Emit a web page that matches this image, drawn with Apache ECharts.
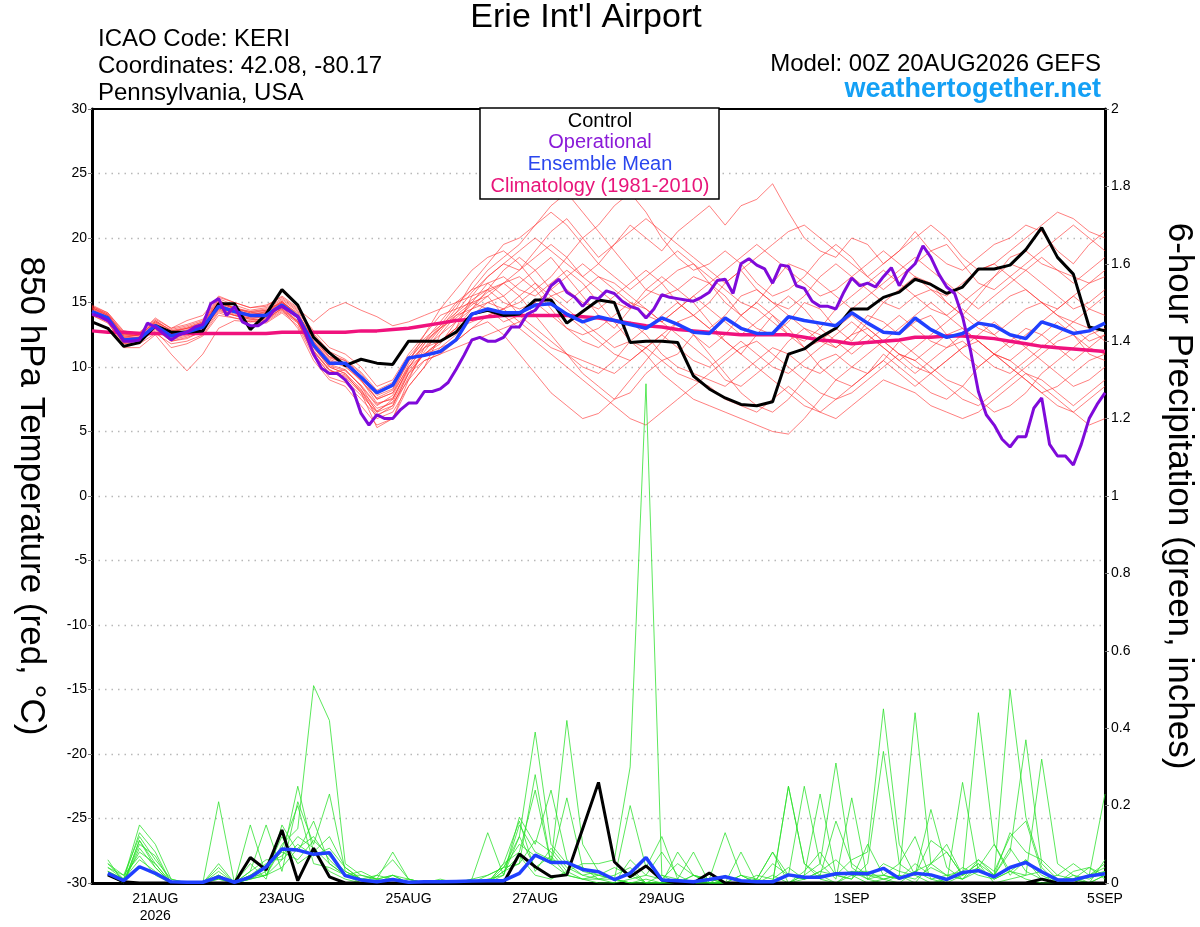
<!DOCTYPE html>
<html>
<head>
<meta charset="utf-8">
<script src="https://cdn.jsdelivr.net/npm/echarts@6/dist/echarts.min.js"></script>
<style>
html,body{margin:0;padding:0;background:#fff;}
#chart{width:1200px;height:927px;}
</style>
</head>
<body>
<div id="chart"></div>
<script>
// ---------------- DATA ----------------
// forecast hours: temperature series every 6 h from 0 h, operational every 3 h, precipitation every 6 h from 6 h
const STEP_HOURS = 6;
const OP_STEP_HOURS = 3;
const tickHours = [24, 72, 120, 168, 216, 288, 336, 384];
const tickLabels = ['21AUG\n2026', '23AUG', '25AUG', '27AUG', '29AUG', '1SEP', '3SEP', '5SEP'];

const control = [
  13.5,13.0,11.6,11.9,13.2,12.7,12.7,12.8,14.9,14.9,12.9,14.1,16.0,
  14.8,12.3,11.1,10.1,10.6,10.3,10.2,12.0,12.0,12.0,12.7,14.1,14.4,
  14.0,14.1,15.2,15.2,13.4,14.3,15.2,15.0,11.9,12.0,12.0,11.9,9.3,
  8.3,7.6,7.1,7.0,7.3,11.0,11.4,12.3,13.0,14.5,14.5,15.4,15.8,
  16.8,16.4,15.7,16.2,17.6,17.6,17.9,19.1,20.8,18.5,17.2,13.1,12.8
];
const ensembleMean = [
  14.3,13.8,12.1,12.2,13.2,12.4,12.7,13.1,14.7,14.3,14.0,14.0,14.8,
  13.9,11.7,10.3,10.3,9.2,8.0,8.6,10.7,10.9,11.2,12.1,14.1,14.5,
  14.2,14.2,14.8,14.9,14.1,13.5,13.9,13.6,13.3,13.0,13.8,13.3,12.7,
  12.6,13.8,13.0,12.6,12.6,13.9,13.6,13.4,13.2,14.2,13.4,12.7,12.6,
  13.8,12.9,12.3,12.6,13.4,13.2,12.5,12.2,13.5,13.1,12.6,12.8,13.4
];
const climatology = [
  12.8,12.7,12.7,12.6,12.6,12.6,12.6,12.6,12.6,12.6,12.6,12.6,12.7,
  12.7,12.7,12.7,12.7,12.8,12.8,12.9,13.0,13.2,13.4,13.6,13.7,13.9,
  14.0,14.0,14.0,14.0,14.0,13.9,13.8,13.6,13.4,13.2,13.1,12.9,12.8,
  12.7,12.6,12.5,12.5,12.5,12.5,12.3,12.1,12.0,11.8,11.9,12.0,12.1,
  12.3,12.3,12.4,12.4,12.3,12.2,12.0,11.8,11.6,11.5,11.4,11.3,11.2
];
const operational = [
  14.1,13.9,13.6,12.9,12.0,12.0,12.1,13.4,13.1,12.6,12.1,12.5,12.7,
  13.1,13.3,14.9,15.3,14.0,14.7,13.5,13.2,13.2,13.6,14.4,14.7,14.3,
  13.9,12.6,11.0,9.9,9.5,9.5,9.0,8.2,6.4,5.5,6.3,6.0,6.0,
  6.7,7.2,7.2,8.1,8.1,8.3,8.8,9.8,10.9,12.1,12.3,12.0,12.0,
  12.3,13.1,13.1,14.1,14.4,15.2,16.3,16.8,15.8,15.4,14.7,15.4,15.3,
  15.9,15.7,15.1,14.7,14.5,13.8,14.5,15.6,15.4,15.3,15.2,15.1,15.4,
  15.8,16.7,16.8,15.7,18.0,18.4,17.9,17.6,16.5,17.9,17.8,16.3,16.1,
  15.1,14.7,14.7,14.5,15.8,16.9,16.3,16.5,16.2,17.0,17.7,16.3,17.4,
  18.0,19.4,18.5,17.2,16.2,15.7,13.9,11.3,8.1,6.3,5.5,4.4,3.8,
  4.6,4.6,6.8,7.6,4.0,3.1,3.1,2.4,4.0,6.0,7.1,8.0
];

const member01 = [14.6,14.0,12.5,12.4,13.6,12.8,13.0,13.5,15.2,14.5,14.2,14.4,15.0, 14.2,12.0,10.5,10.0,9.0,7.5,8.0,10.5,11.5,12.0,13.0,15.5,17.0, 18.0,17.5,19.0,20.5,21.5,20.0,18.5,19.5,21.0,20.0,19.0,20.5,21.5, 22.5,21.0,22.5,23.0,24.2,22.0,20.0,19.0,18.5,20.0,19.5,18.0,19.0, 20.5,19.0,18.0,17.5,18.5,19.5,20.0,21.0,20.5,19.0,18.0,19.5,20.5];
const member02 = [14.2,13.6,11.8,12.0,13.0,12.0,12.2,12.8,14.5,14.0,13.8,13.6,14.6, 13.5,11.0,9.5,9.8,8.5,6.5,7.0,9.5,11.0,11.8,13.5,15.0,16.5, 15.5,14.0,13.0,12.0,11.0,9.5,8.5,7.5,8.0,9.5,10.5,11.0,12.5, 11.0,9.5,8.0,7.0,6.5,7.5,9.0,10.5,11.0,10.0,9.5,10.5,12.0, 11.0,10.0,9.0,8.5,7.5,6.5,7.0,8.0,9.5,10.5,11.5,12.5,13.0];
const member03 = [14.8,14.2,12.8,12.6,13.8,13.0,13.6,14.0,15.5,15.0,14.6,14.8,15.4, 14.5,13.5,14.5,15.0,14.4,13.9,13.2,13.5,14.0,14.5,15.0,16.0,16.5, 17.0,16.0,15.5,16.5,17.5,16.5,15.0,13.5,12.0,11.5,12.5,13.5,14.0, 15.0,16.5,17.5,16.0,15.0,14.5,15.5,17.0,18.0,17.0,16.0,15.0,14.5, 15.5,16.0,15.0,14.0,13.0,12.5,13.5,14.5,15.0,14.0,13.5,14.5,15.5];
const member04 = [14.0,13.5,11.5,11.5,12.5,11.0,9.7,11.0,13.0,13.6,13.5,13.8,14.5, 13.0,10.5,9.0,8.5,7.0,5.5,6.0,8.5,10.0,11.5,12.5,14.0,15.0, 15.5,16.5,17.5,18.5,17.0,15.5,14.0,13.0,14.5,16.0,17.0,16.0,15.0, 13.5,12.0,11.0,12.5,14.0,13.0,11.5,10.0,9.0,8.5,9.5,11.0,10.0, 9.0,8.0,7.5,8.5,10.0,11.0,10.5,9.5,8.5,7.5,6.5,5.5,6.0];
const member05 = [14.4,13.8,12.2,12.3,13.3,12.6,12.8,13.2,14.8,14.4,14.1,14.2,15.0, 14.0,11.5,10.0,9.5,8.0,5.3,6.0,9.0,11.5,13.0,14.5,16.5,18.0, 19.5,20.0,21.0,22.5,23.5,22.0,20.5,19.0,17.5,16.0,15.5,16.0,17.0, 16.5,15.5,14.0,13.0,12.5,13.5,15.0,14.5,13.0,12.0,13.5,15.0,16.0, 17.0,16.5,15.0,14.0,15.5,17.0,18.0,17.5,16.5,15.5,14.5,15.0,16.0];
const member06 = [14.3,13.9,12.0,12.1,13.1,12.2,12.5,13.0,14.6,14.2,13.9,13.8,14.7, 13.8,11.2,9.8,9.0,7.8,6.5,7.5,10.0,11.0,11.5,12.0,13.0,13.5, 12.5,11.0,9.5,8.0,7.0,6.0,6.4,7.5,9.0,10.5,12.0,13.5,12.5, 11.5,12.5,14.0,15.0,14.0,12.5,11.5,12.0,13.0,14.0,13.0,12.0,11.0, 10.0,9.5,10.5,11.5,12.0,11.0,10.0,9.0,8.0,8.5,9.5,10.5,11.0];
const member07 = [14.5,14.0,12.3,12.5,13.4,12.5,12.9,13.4,15.0,14.5,14.3,14.5,15.2, 14.3,12.5,11.0,10.5,9.5,8.0,8.5,10.5,12.0,13.5,15.0,15.5,16.0, 15.0,14.5,15.0,14.0,13.0,12.5,13.0,14.0,15.0,14.5,13.5,12.5,11.5, 10.5,9.0,8.5,9.5,10.5,12.0,13.0,12.5,11.5,12.5,14.0,13.5,12.5, 13.5,14.0,12.5,11.0,10.0,11.0,12.0,13.0,12.5,11.5,10.5,11.5,12.5];
const member08 = [14.1,13.6,11.9,12.0,12.8,11.5,11.8,12.4,14.0,13.8,13.5,13.5,14.3, 13.4,11.0,9.5,9.3,8.2,6.8,7.2,9.0,10.5,11.0,12.0,13.0,14.0, 14.5,15.0,16.0,17.0,18.5,20.0,21.0,22.5,23.5,22.0,20.0,18.5,17.5, 18.0,19.0,18.0,16.5,15.5,16.0,17.0,18.5,19.5,18.5,17.0,16.0,17.0, 18.0,19.0,19.5,18.0,16.5,16.0,17.0,18.0,19.0,20.0,21.0,20.0,19.0];
const member09 = [14.7,14.1,12.6,12.4,13.5,12.9,13.2,13.6,15.3,14.8,14.4,14.6,15.3, 14.4,12.8,11.5,11.0,10.0,8.5,9.0,11.0,12.5,14.0,14.5,15.0,15.5, 14.0,13.0,12.0,11.0,10.0,9.0,8.0,7.0,6.0,5.5,6.5,7.5,8.5, 9.5,10.5,11.5,12.0,11.0,10.0,9.0,8.0,7.5,8.0,9.0,10.0,11.0, 10.5,9.5,8.5,7.5,7.0,8.0,9.0,10.0,11.0,12.0,12.5,11.5,11.0];
const member10 = [14.2,13.7,12.1,12.2,13.0,12.3,12.6,13.0,14.5,14.1,13.8,13.9,14.6, 13.6,11.5,10.0,9.5,8.3,6.0,6.5,8.5,10.0,12.5,14.0,14.5,15.0, 14.5,13.5,14.5,15.5,16.0,15.0,14.5,15.5,16.5,17.5,16.5,15.0,14.0, 13.0,14.0,15.5,16.0,15.0,14.0,13.0,12.0,11.5,12.5,13.0,12.0,11.0, 10.5,11.5,12.5,13.0,12.0,11.0,10.5,11.5,12.5,13.5,12.5,11.0,10.5];
const member11 = [14.5,13.9,12.4,12.5,13.5,12.7,13.0,13.4,15.0,14.5,14.0,14.3,15.1, 14.0,12.0,10.8,10.5,9.3,7.5,8.0,10.0,11.5,12.5,13.5,14.5,15.5, 16.5,17.5,18.5,19.5,18.5,17.0,16.0,15.0,14.5,15.5,16.5,17.5,18.0, 17.0,16.0,15.0,14.5,13.5,12.5,12.0,13.0,14.5,15.5,16.5,17.5,16.5, 15.5,14.5,14.0,15.0,16.0,17.0,18.5,19.0,18.0,17.5,17.0,16.5,17.0];
const member12 = [14.0,13.4,11.8,11.8,12.6,11.8,12.0,12.5,14.2,13.8,13.6,13.4,14.2, 13.2,10.8,9.2,8.8,7.5,6.2,7.0,9.5,10.5,11.0,11.5,12.0,12.5, 13.0,13.5,12.5,11.5,11.0,10.5,10.0,9.5,10.5,11.5,10.5,9.5,9.0, 8.5,7.5,7.0,6.5,7.5,8.5,7.5,6.5,6.0,7.0,8.0,9.0,8.5, 8.0,7.0,6.5,6.0,6.5,7.5,8.5,9.5,9.0,8.0,7.0,8.0,9.0];
const member13 = [14.4,13.8,12.2,12.3,13.2,12.4,12.6,13.1,14.7,14.3,14.0,14.1,14.9, 13.9,11.8,10.2,9.8,8.5,7.0,7.8,10.2,11.8,13.0,14.0,15.0,14.5, 13.5,14.0,15.0,16.0,17.0,18.0,17.0,16.0,15.0,14.0,13.5,14.5,15.5, 16.5,17.5,18.5,19.5,18.5,17.5,16.5,15.5,16.0,17.0,18.0,19.0,18.0, 17.0,16.0,15.5,16.5,17.5,18.0,17.0,16.0,15.0,14.5,15.5,16.5,17.5];
const member14 = [14.6,14.1,12.5,12.6,13.6,12.8,13.1,13.5,15.1,14.6,14.3,14.4,15.1, 14.1,12.3,10.8,10.2,9.0,7.2,7.5,9.8,11.0,12.0,13.0,13.5,14.0, 14.5,15.5,16.5,15.5,14.5,13.5,12.5,11.5,12.0,13.0,14.0,15.0,14.0, 13.0,12.0,11.0,10.0,9.0,8.0,7.0,6.5,7.5,8.5,9.5,10.5,9.5, 8.5,9.5,10.5,11.5,12.5,13.5,12.5,11.5,10.5,9.5,8.5,9.0,10.0];
const member15 = [14.3,13.7,12.0,12.1,13.0,12.1,12.4,12.9,14.4,14.0,13.7,13.7,14.5, 13.5,11.3,9.8,9.2,8.0,6.3,6.8,9.2,11.2,12.8,14.2,15.2,16.0, 16.5,15.5,14.0,12.5,11.0,10.0,9.5,10.5,12.0,11.0,9.5,8.5,7.5, 7.0,6.5,6.0,5.5,5.0,4.8,6.0,7.5,9.0,10.0,11.0,12.0,13.0, 14.0,15.0,14.0,13.0,12.0,11.0,10.0,9.0,8.0,7.0,6.5,7.5,8.5];
const member16 = [14.7,14.2,12.7,12.7,13.7,13.0,13.3,13.7,15.4,15.0,14.6,14.7,15.5, 14.6,12.6,11.2,10.6,9.6,8.2,8.8,10.8,12.2,13.2,14.2,15.8,17.0, 18.0,19.0,20.0,19.0,18.0,17.0,18.0,19.5,20.5,21.5,20.5,19.5,18.5, 17.5,16.5,17.5,18.5,19.5,20.5,21.0,20.0,19.0,18.0,17.0,18.0,19.0, 20.0,21.0,20.0,18.5,17.5,18.0,19.0,20.0,21.0,22.0,21.5,20.5,20.0];
const member17 = [14.4,13.9,12.3,12.2,13.1,12.5,12.8,13.2,14.9,14.4,14.1,14.2,14.9, 13.9,11.9,10.6,10.1,8.9,7.6,8.2,10.4,12.5,14.5,16.0,17.5,18.5, 19.0,18.0,16.5,15.0,14.0,13.0,12.0,11.0,10.5,11.5,12.5,11.5,10.5, 10.0,11.0,12.0,11.0,10.0,9.5,10.5,11.5,12.5,13.5,12.5,11.5,10.5, 11.5,12.5,13.5,14.5,13.5,12.5,11.5,12.5,13.5,14.5,15.5,14.5,14.0];
const member18 = [14.2,13.5,11.9,12.1,12.9,12.0,12.3,12.7,14.3,14.0,13.7,13.6,14.4, 13.5,11.2,9.7,9.4,8.1,6.6,7.3,9.6,11.0,12.0,13.0,14.5,16.0, 17.5,18.5,17.5,16.0,15.0,16.0,17.0,16.5,15.5,14.5,13.5,14.5,15.5, 14.5,13.5,12.5,13.5,14.5,15.5,14.5,13.0,12.0,11.0,12.0,13.0,14.0, 13.0,12.0,11.5,12.5,13.5,14.5,15.5,16.0,15.0,14.0,13.0,12.0,12.5];
const member19 = [14.6,14.0,12.4,12.3,13.4,12.7,13.0,13.3,15.0,14.6,14.2,14.3,15.0, 14.0,12.2,10.7,10.3,9.2,7.8,8.3,10.6,12.0,13.0,13.8,14.8,15.8, 16.5,17.0,16.0,14.5,13.0,12.0,11.5,12.5,13.5,12.5,11.0,10.0,9.5, 9.0,8.5,9.5,10.5,11.5,11.0,10.0,9.5,10.5,11.5,12.5,11.5,10.5, 9.5,10.5,11.5,12.0,11.0,10.0,9.5,10.5,11.5,12.5,13.5,13.0,12.0];
const member20 = [14.3,13.8,12.1,12.2,13.2,12.3,12.6,13.1,14.6,14.2,13.9,14.0,14.8, 13.8,11.6,10.1,9.7,8.6,7.1,7.6,9.9,11.8,13.2,14.8,16.0,17.5, 18.5,19.5,21.0,22.0,21.0,19.5,18.0,17.0,16.0,17.0,18.0,19.0,18.0, 16.5,15.0,14.0,15.0,16.5,18.0,17.5,16.5,15.5,14.5,15.5,16.5,17.5, 18.5,17.5,16.5,15.5,14.5,15.5,16.5,17.5,18.5,17.5,16.5,17.5,18.5];

// 6-hour precipitation (inches), first value at +6 h
const precipControl = [
  0.021,0.003,0,0,0,0,0,0,
  0,0.066,0.034,0.137,0.006,0.09,0.016,0,
  0,0,0,0,0,0,0,0,
  0,0,0.075,0.042,0.016,0.021,0.14,0.26,
  0.055,0.016,0.044,0.008,0,0,0.026,0,
  0,0,0,0,0,0,0,0,
  0,0,0,0,0,0,0,0,
  0,0,0,0.01,0,0,0,0
];
const precipMean = [
  0.025,0.006,0.042,0.025,0.003,0.002,0.002,0.016,
  0.002,0.015,0.042,0.088,0.085,0.074,0.078,0.019,
  0.008,0.003,0.009,0.002,0.003,0.003,0.004,0.005,
  0.006,0.006,0.025,0.072,0.053,0.053,0.035,0.029,
  0.009,0.025,0.066,0.008,0.006,0.003,0.009,0.016,
  0.006,0.003,0.003,0.021,0.015,0.015,0.024,0.025,
  0.024,0.038,0.012,0.025,0.021,0.009,0.027,0.032,
  0.016,0.040,0.053,0.029,0.008,0.008,0.018,0.024
];
const precipMember01 = [0.05,0.01,0.15,0.10,0.01,0,0,0.02, 0,0.03,0.06,0.06,0.25,0.08,0.03,0.01, 0,0,0.02,0,0,0,0,0.01, 0.02,0.04,0.12,0.39,0.10,0.05,0.02,0.01, 0.01,0.03,0,0,0,0.02,0.01,0, 0,0,0.05,0.02,0.01,0.03,0.02,0.06, 0.08,0.45,0.10,0.02,0,0.01,0.04,0.02, 0.01,0.03,0.06,0.02,0,0.01,0,0.02];
const precipMember02 = [0.02,0,0.11,0.05,0,0,0,0.21, 0,0.01,0.02,0.10,0.14,0.51,0.42,0.05, 0.02,0.01,0,0,0,0.01,0,0, 0.02,0.04,0.05,0.28,0.05,0.42,0.10,0.03, 0.01,0,0,0,0.01,0,0,0, 0.02,0,0,0,0.01,0.02,0,0.03, 0.01,0,0.02,0,0.05,0.10,0.02,0.44, 0.10,0.03,0.01,0,0,0.02,0.01,0.03];
const precipMember03 = [0.03,0.01,0.08,0.05,0,0,0,0.02, 0,0.15,0.02,0.04,0.09,0.12,0.06,0.02, 0.01,0,0,0,0,0,0,0, 0,0.03,0.07,0.02,0.01,0.03,0.05,0.05, 0.06,0.30,1.29,0.02,0,0,0.01,0, 0,0,0,0.25,0.05,0.01,0,0.02, 0,0.01,0,0.03,0.01,0,0.02,0.05, 0,0.01,0.02,0.03,0,0.01,0,0.02];
const precipMember04 = [0.04,0.02,0.12,0.06,0.01,0,0,0.05, 0,0.03,0.15,0.03,0.21,0.10,0.23,0.03, 0.01,0.02,0.06,0.01,0,0,0,0, 0,0.05,0.08,0.24,0.05,0.22,0.04,0.01, 0,0.06,0.02,0.08,0.02,0,0.01,0.13, 0.02,0,0,0.02,0.25,0.05,0.31,0.04, 0.01,0.02,0.01,0.05,0.02,0,0.26,0.03, 0.02,0.50,0.17,0.04,0,0,0.02,0.05];
const precipMember05 = [0.06,0,0.09,0.04,0,0,0,0.03, 0,0.05,0.01,0.15,0.08,0.16,0.05,0.02, 0.02,0.01,0.08,0.01,0,0,0,0.01, 0.13,0.02,0.17,0.10,0.24,0.06,0.03,0.02, 0.01,0,0.01,0,0,0.02,0.01,0, 0,0,0,0.25,0.05,0.02,0.02,0.01, 0.05,0.34,0.05,0.02,0.19,0.04,0.01,0.03, 0.02,0.08,0.37,0.05,0.01,0,0.02,0.23];
const precipMember06 = [0.03,0.01,0.13,0.08,0,0,0,0.02, 0,0.01,0.02,0.06,0.10,0.07,0.09,0.04, 0.01,0,0.01,0,0,0,0,0, 0.01,0.02,0.15,0.08,0.06,0.05,0.04,0.02, 0.01,0.20,0.04,0.12,0.01,0.08,0,0, 0.02,0.01,0.08,0,0.02,0.23,0.02,0.03, 0.03,0.01,0.02,0.44,0.05,0.02,0.01,0.04, 0.01,0.03,0.02,0.32,0.05,0.02,0,0.06];
const precipMember07 = [0.02,0,0.10,0.07,0,0,0,0.01, 0,0.02,0.04,0.08,0.06,0.11,0.07,0.03, 0.01,0.01,0.02,0,0,0,0,0, 0,0.03,0.05,0.11,0.08,0.03,0.01,0.02, 0.04,0.02,0,0,0,0,0,0, 0.08,0,0.02,0,0.02,0.05,0.01,0.22, 0.01,0.05,0.03,0.02,0.11,0.08,0.02,0.05, 0.02,0.13,0.08,0.06,0.02,0.01,0.04,0.02];
const precipMember08 = [0.04,0.01,0.06,0.03,0,0,0,0.01, 0,0.02,0.05,0.07,0.12,0.09,0.05,0.02, 0.03,0.01,0.02,0.01,0,0,0,0, 0,0.02,0.12,0.04,0.07,0.02,0.01,0.01, 0.02,0.04,0,0,0.08,0.02,0,0.02, 0,0.01,0.08,0.02,0.01,0.03,0.06,0.02, 0.02,0.01,0.02,0.01,0.04,0.02,0.03,0.06, 0.02,0.09,0.03,0.01,0.02,0.05,0.02,0.03];
const precipMember09 = [0.05,0.02,0.07,0.02,0,0,0,0.02, 0,0.01,0.03,0.12,0.05,0.08,0.12,0.04, 0.01,0,0,0.01,0,0,0,0, 0,0.04,0.10,0.07,0.05,0.02,0.01,0, 0,0.01,0.02,0.01,0.05,0.02,0,0, 0,0.02,0.01,0.04,0.01,0.02,0.16,0.05, 0.02,0.02,0.01,0.03,0.05,0.08,0.02,0.04, 0.10,0.02,0.06,0.01,0,0.03,0.04,0.01];
const precipMember10 = [0.03,0,0.11,0.04,0,0,0,0.04, 0,0.02,0.02,0.09,0.20,0.05,0.04,0.02, 0,0.02,0.01,0,0,0,0,0, 0,0.05,0.16,0.03,0.09,0.04,0.02,0.03, 0.01,0,0,0.02,0.01,0,0,0, 0,0.01,0,0,0.03,0.08,0.02,0.01, 0.10,0.02,0.05,0.12,0.01,0.02,0.01,0.06, 0.03,0.12,0.16,0.03,0.01,0.01,0.02,0.04];

// ---------------- CHART ----------------
const tempMembers = [member01,member02,member03,member04,member05,member06,member07,member08,member09,member10,
                     member11,member12,member13,member14,member15,member16,member17,member18,member19,member20];
const precipMembers = [precipMember01,precipMember02,precipMember03,precipMember04,precipMember05,
                       precipMember06,precipMember07,precipMember08,precipMember09,precipMember10];

const FONT = '"Liberation Sans", Arial, Helvetica, sans-serif';
const tempPairs = arr => arr.map((v, i) => [i * STEP_HOURS, v]);
const opPairs = arr => arr.map((v, i) => [i * OP_STEP_HOURS, v]);
const precipPairs = arr => arr.map((v, i) => [(i + 1) * STEP_HOURS, v]);

const lineBase = { type: 'line', showSymbol: false, symbol: 'none', silent: true, animation: false };

const series = [];
tempMembers.forEach((m, k) => series.push(Object.assign({}, lineBase, {
  name: 'T member ' + (k + 1), yAxisIndex: 0, z: 2, data: tempPairs(m),
  lineStyle: { color: 'rgba(255,45,45,0.68)', width: 0.9 }
})));
precipMembers.forEach((m, k) => series.push(Object.assign({}, lineBase, {
  name: 'P member ' + (k + 1), yAxisIndex: 1, z: 2, data: precipPairs(m),
  lineStyle: { color: 'rgba(40,225,40,0.85)', width: 0.9 }
})));
series.push(Object.assign({}, lineBase, { name: 'Climatology', yAxisIndex: 0, z: 3,
  data: tempPairs(climatology), lineStyle: { color: '#f0127d', width: 3.5 } }));
series.push(Object.assign({}, lineBase, { name: 'Control', yAxisIndex: 0, z: 4,
  data: tempPairs(control), lineStyle: { color: '#000000', width: 3 } }));
series.push(Object.assign({}, lineBase, { name: 'Ensemble Mean', yAxisIndex: 0, z: 5,
  data: tempPairs(ensembleMean), lineStyle: { color: '#2040ff', width: 3.5 } }));
series.push(Object.assign({}, lineBase, { name: 'Operational', yAxisIndex: 0, z: 6,
  data: opPairs(operational), lineStyle: { color: '#7f0ada', width: 3 } }));
series.push(Object.assign({}, lineBase, { name: 'Control precip', yAxisIndex: 1, z: 4,
  data: precipPairs(precipControl), lineStyle: { color: '#000000', width: 3 } }));
series.push(Object.assign({}, lineBase, { name: 'Mean precip', yAxisIndex: 1, z: 5,
  data: precipPairs(precipMean), lineStyle: { color: '#2040ff', width: 3.5 } }));

const legendLines = [
  { text: 'Control', color: '#000000', y: 121 },
  { text: 'Operational', color: '#8a1ad8', y: 142 },
  { text: 'Ensemble Mean', color: '#2a46ee', y: 164 },
  { text: 'Climatology (1981-2010)', color: '#e8157a', y: 186 }
];

const chart = echarts.init(document.getElementById('chart'), null, { renderer: 'canvas' });
chart.setOption({
  backgroundColor: '#ffffff',
  animation: false,
  textStyle: { fontFamily: FONT },
  grid: { left: 92, right: 95, top: 109, bottom: 44, show: false, containLabel: false, outerBoundsMode: 'none' },
  xAxis: {
    type: 'value', min: 0, max: 384, interval: 24,
    axisLine: { show: true, onZero: false, lineStyle: { color: '#000', width: 3 } },
    axisTick: { show: false },
    splitLine: { show: false },
    axisLabel: {
      color: '#000', fontSize: 14, fontFamily: FONT, margin: 8, lineHeight: 17,
      showMaxLabel: true, showMinLabel: true, hideOverlap: false,
      formatter: v => { const k = tickHours.indexOf(Math.round(v)); return k >= 0 ? tickLabels[k] : ''; }
    }
  },
  yAxis: [
    {
      type: 'value', min: -30, max: 30, interval: 5, position: 'left',
      axisLine: { show: true, onZero: false, lineStyle: { color: '#000', width: 3 } },
      axisTick: { show: true, length: 4, lineStyle: { color: '#777', width: 1 } },
      axisLabel: { color: '#000', fontSize: 14, fontFamily: FONT, margin: 5 },
      splitLine: { show: true, showMinLine: false, showMaxLine: false,
                   lineStyle: { color: '#b8b8b8', width: 1.3, type: [1.5, 5] } },
      name: '850 hPa Temperature (red, °C)', nameLocation: 'middle', nameRotate: -90, nameGap: 44,
      nameTextStyle: { fontSize: 35, color: '#000', fontFamily: FONT }
    },
    {
      type: 'value', min: 0, max: 2, interval: 0.2, position: 'right',
      axisLine: { show: true, onZero: false, lineStyle: { color: '#000', width: 3 } },
      axisTick: { show: true, length: 4, lineStyle: { color: '#777', width: 1 } },
      axisLabel: { color: '#000', fontSize: 14, fontFamily: FONT, margin: 6,
        formatter: v => { const r = Math.round(v * 10) / 10; return Number.isInteger(r) ? String(r) : r.toFixed(1); } },
      splitLine: { show: false },
      name: '6-hour Precipitation (green, inches)', nameLocation: 'middle', nameRotate: -90, nameGap: 56,
      nameTextStyle: { fontSize: 35, color: '#000', fontFamily: FONT }
    }
  ],
  graphic: [
    { type: 'line', z: 90, shape: { x1: 92, y1: 109, x2: 1105, y2: 109 }, style: { stroke: '#000', lineWidth: 2 } },
    { type: 'text', x: 586, y: 18, z: 100, style: { text: "Erie Int'l Airport", font: '34px ' + FONT, fill: '#000', textAlign: 'center', textVerticalAlign: 'middle' } },
    { type: 'text', x: 98, y: 39, z: 100, style: { text: 'ICAO Code: KERI', font: '24px ' + FONT, fill: '#000', textAlign: 'left', textVerticalAlign: 'middle' } },
    { type: 'text', x: 98, y: 66, z: 100, style: { text: 'Coordinates: 42.08, -80.17', font: '24px ' + FONT, fill: '#000', textAlign: 'left', textVerticalAlign: 'middle' } },
    { type: 'text', x: 98, y: 93, z: 100, style: { text: 'Pennsylvania, USA', font: '24px ' + FONT, fill: '#000', textAlign: 'left', textVerticalAlign: 'middle' } },
    { type: 'text', x: 1101, y: 64, z: 100, style: { text: 'Model: 00Z 20AUG2026 GEFS', font: '24px ' + FONT, fill: '#000', textAlign: 'right', textVerticalAlign: 'middle' } },
    { type: 'text', x: 1101, y: 90, z: 100, style: { text: 'weathertogether.net', font: 'bold 27px ' + FONT, fill: '#14a0f5', textAlign: 'right', textVerticalAlign: 'middle' } },
    { type: 'rect', z: 100, shape: { x: 480, y: 108, width: 239, height: 91 }, style: { fill: '#ffffff', stroke: '#000', lineWidth: 1.5 } }
  ].concat(legendLines.map(l => ({
    type: 'text', x: 600, y: l.y, z: 101,
    style: { text: l.text, font: '20px ' + FONT, fill: l.color, textAlign: 'center', textVerticalAlign: 'middle' }
  }))),
  series: series
});
</script>
</body>
</html>
